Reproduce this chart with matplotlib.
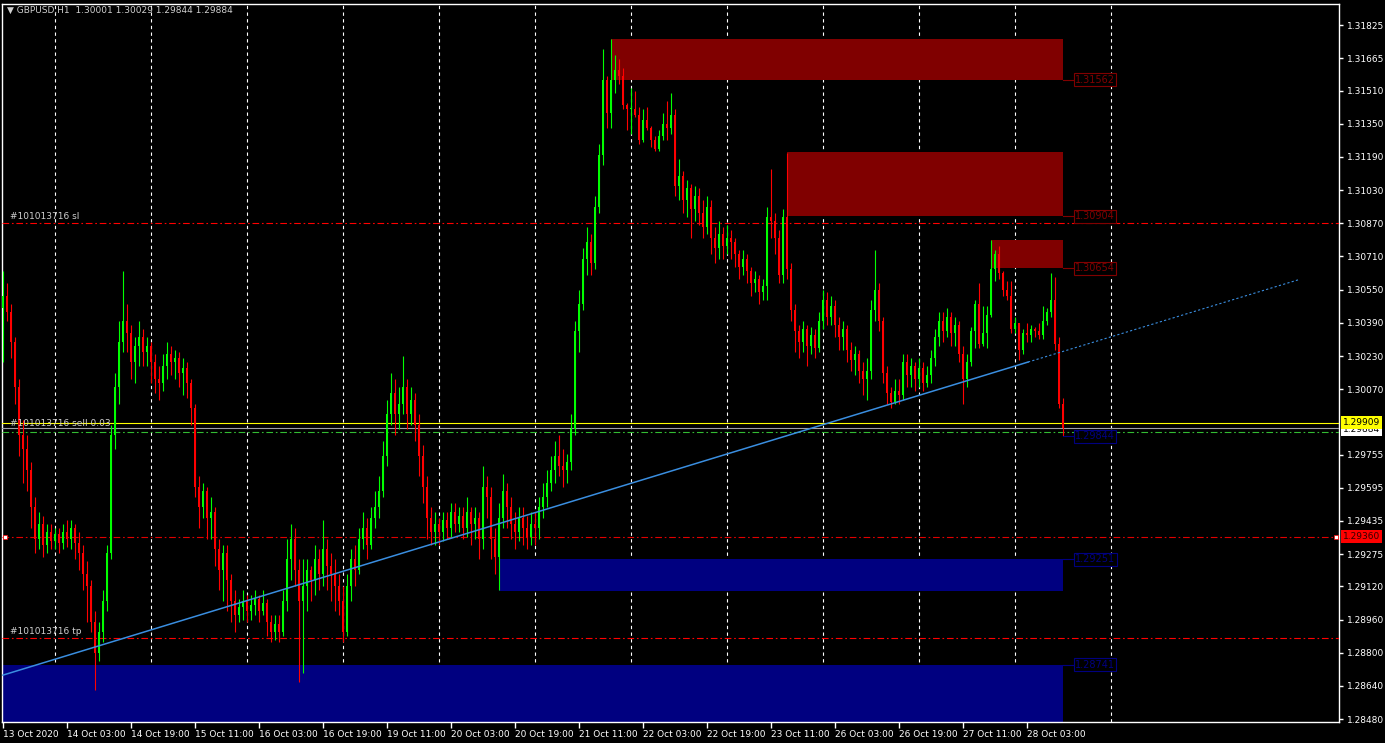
import numpy as np
import matplotlib
matplotlib.use("Agg")
import matplotlib.pyplot as plt
import matplotlib.transforms as mtransforms
from matplotlib.patches import Rectangle

# GBPUSD H1 bars, 13 Oct 2020 11:00 .. 28 Oct 2020 12:00 (one entry per hour)
first_open = 1.3046
closes = [
    # 13 Oct
    1.3052, 1.3044, 1.3030, 1.3008, 1.2985, 1.2978, 1.2968, 1.2950, 1.2935, 1.2942, 1.2932, 1.2938, 1.2934,
    # 14 Oct
    1.2937, 1.2933, 1.2938, 1.2935, 1.2940, 1.2933, 1.2928, 1.2918, 1.2912, 1.2895, 1.2880, 1.2890,
    1.2905, 1.2928, 1.2985, 1.3008, 1.3030, 1.3040, 1.3034, 1.3020, 1.3028, 1.3032, 1.3025, 1.3028,
    # 15 Oct
    1.3020, 1.3012, 1.3010, 1.3018, 1.3024, 1.3020, 1.3022, 1.3015, 1.3017, 1.3010, 1.2998, 1.2960,
    1.2950, 1.2958, 1.2945, 1.2948, 1.2930, 1.2920, 1.2928, 1.2915, 1.2905, 1.2898, 1.2902, 1.2905,
    # 16 Oct
    1.2900, 1.2903, 1.2906, 1.2900, 1.2904, 1.2895, 1.2890, 1.2894, 1.2890, 1.2905, 1.2925, 1.2935,
    1.2920, 1.2905, 1.2912, 1.2920, 1.2915, 1.2925, 1.2918, 1.2930, 1.2922, 1.2918, 1.2912, 1.2905,
    # 19 Oct
    1.2890, 1.2912, 1.2925, 1.2920, 1.2935, 1.2940, 1.2932, 1.2945, 1.2950, 1.2958, 1.2975, 1.2995,
    1.3005, 1.2995, 1.3000, 1.3008, 1.2995, 1.3002, 1.2990, 1.2975, 1.2960, 1.2945, 1.2938, 1.2942,
    # 20 Oct
    1.2938, 1.2944, 1.2940, 1.2948, 1.2942, 1.2946, 1.2940, 1.2948, 1.2942, 1.2945, 1.2935, 1.2960,
    1.2955, 1.2935, 1.2926, 1.2945, 1.2958, 1.2950, 1.2942, 1.2938, 1.2945, 1.2940, 1.2936, 1.2942,
    # 21 Oct
    1.2940, 1.2950, 1.2955, 1.2962, 1.2968, 1.2975, 1.2970, 1.2968, 1.2972, 1.2988, 1.3035, 1.3048,
    1.3070, 1.3078, 1.3068, 1.3095, 1.3120, 1.3156, 1.3140, 1.3156, 1.3161, 1.3158, 1.3144, 1.3142,
    # 22 Oct
    1.3142, 1.3139, 1.3127, 1.3137, 1.3133, 1.3127, 1.3123, 1.3129, 1.3135, 1.3133, 1.3139, 1.3105,
    1.3110, 1.3098, 1.3104, 1.3094, 1.3100, 1.3092, 1.3085, 1.3095, 1.3080, 1.3075, 1.3082, 1.3076,
    # 23 Oct
    1.3080, 1.3078, 1.3072, 1.3066, 1.3070, 1.3064, 1.3058, 1.3060, 1.3054, 1.3057, 1.3090, 1.3088,
    1.3080, 1.3062, 1.3090, 1.3065, 1.3045, 1.3035, 1.3030, 1.3036, 1.3028, 1.3033, 1.3027, 1.3040,
    # 26 Oct
    1.3050, 1.3042, 1.3047, 1.3038, 1.3032, 1.3036, 1.3026, 1.3021, 1.3024, 1.3016, 1.3012, 1.3016,
    1.3045, 1.3055, 1.3040, 1.3015, 1.3005, 1.3001, 1.3006, 1.3004, 1.3020, 1.3014, 1.3018, 1.3012,
    # 27 Oct
    1.3017, 1.3010, 1.3014, 1.3022, 1.3032, 1.3040, 1.3035, 1.3042, 1.3034, 1.3038, 1.3024, 1.3012,
    1.3020, 1.3035, 1.3048, 1.3029, 1.3034, 1.3043, 1.3065, 1.3072, 1.3063, 1.3055, 1.3052, 1.3036,
    # 28 Oct
    1.3039, 1.3026, 1.3034, 1.3033, 1.3036, 1.3035, 1.3033, 1.3040, 1.3044, 1.3050, 1.3029, 1.30001,
    1.29884,
]
highs = [
    1.3064, 1.3058, 1.3048, 1.3032, 1.3012, 1.2992, 1.2985, 1.2972, 1.2955, 1.2948, 1.2946, 1.2942, 1.2942,
    1.2940, 1.2940, 1.2942, 1.2944, 1.2944, 1.2942, 1.2938, 1.2932, 1.2924, 1.2915, 1.2900, 1.2895,
    1.2910, 1.2932, 1.2990, 1.3015, 1.3040, 1.3064, 1.3048, 1.3038, 1.3032, 1.3040, 1.3036, 1.3032,
    1.3030, 1.3024, 1.3018, 1.3024, 1.3030, 1.3028, 1.3026, 1.3025, 1.3022, 1.3020, 1.3012, 1.3000,
    1.2965, 1.2962, 1.2960, 1.2955, 1.2950, 1.2935, 1.2932, 1.2932, 1.2918, 1.2910, 1.2906, 1.2910,
    1.2908, 1.2908, 1.2910, 1.2908, 1.2910, 1.2906, 1.2898, 1.2898, 1.2898, 1.2910, 1.2935, 1.2942,
    1.2940, 1.2925, 1.2925, 1.2925, 1.2922, 1.2932, 1.2930, 1.2944, 1.2935, 1.2928, 1.2925, 1.2918,
    1.2912, 1.2918, 1.2930, 1.2932, 1.2940, 1.2948, 1.2945, 1.2950, 1.2958, 1.2965, 1.2982, 1.3002,
    1.3015, 1.3012, 1.3008, 1.3023, 1.3012, 1.3008, 1.3005, 1.2995, 1.2980, 1.2965, 1.2950, 1.2948,
    1.2945, 1.2948, 1.2948, 1.2952, 1.2952, 1.2950, 1.2950, 1.2955, 1.2950, 1.2950, 1.2948, 1.2970,
    1.2965, 1.2960, 1.2940, 1.2952, 1.2966, 1.2962, 1.2955, 1.2948, 1.2950, 1.2950, 1.2946, 1.2948,
    1.2948, 1.2955, 1.2962, 1.2968, 1.2975, 1.2982, 1.2985, 1.2978, 1.2976, 1.2995, 1.3040, 1.3055,
    1.3075, 1.3085, 1.3082, 1.3100, 1.3125, 1.3171, 1.3158, 1.3176, 1.3168, 1.3166, 1.3162, 1.3145,
    1.3152, 1.3151, 1.3143, 1.3142, 1.3143, 1.3134, 1.3129, 1.3132, 1.3140, 1.3146, 1.3150, 1.3142,
    1.3118, 1.3112, 1.3108, 1.3106, 1.3105, 1.3104, 1.3098, 1.3100, 1.3098, 1.3085, 1.3088, 1.3085,
    1.3086, 1.3084, 1.3080, 1.3074, 1.3074, 1.3072, 1.3066, 1.3064, 1.3062, 1.3060, 1.3095, 1.3113,
    1.3092, 1.3084, 1.3094, 1.3121, 1.3068, 1.3048, 1.3038, 1.3040, 1.3038, 1.3037, 1.3036, 1.3044,
    1.3055, 1.3054, 1.3052, 1.3050, 1.3042, 1.3040, 1.3038, 1.3030, 1.3028, 1.3026, 1.3020, 1.3022,
    1.3050, 1.3074, 1.3058, 1.3042, 1.3018, 1.3008, 1.3012, 1.3012, 1.3024, 1.3024, 1.3022, 1.3020,
    1.3022, 1.3020, 1.3018, 1.3026, 1.3036, 1.3044, 1.3044, 1.3046, 1.3044, 1.3042, 1.3040, 1.3028,
    1.3024, 1.3037, 1.3050, 1.3058, 1.3047, 1.3047, 1.3079, 1.3074, 1.3076, 1.3064, 1.3059, 1.3059,
    1.3042, 1.3039, 1.3036, 1.3039, 1.3038, 1.3037, 1.3039, 1.3047, 1.3046, 1.3063, 1.3061, 1.3032,
    1.30029,
]
lows = [
    1.3020, 1.3040, 1.3022, 1.3000, 1.2975, 1.2962, 1.2958, 1.2940, 1.2928, 1.2930, 1.2926, 1.2928, 1.2930,
    1.2930, 1.2928, 1.2930, 1.2931, 1.2930, 1.2925, 1.2920, 1.2910, 1.2895, 1.2890, 1.2862, 1.2876,
    1.2885, 1.2900, 1.2925, 1.2978, 1.3000, 1.3025, 1.3025, 1.3012, 1.3010, 1.3018, 1.3018, 1.3018,
    1.3010, 1.3005, 1.3002, 1.3006, 1.3012, 1.3014, 1.3012, 1.3008, 1.3004, 1.3003, 1.2990, 1.2955,
    1.2940, 1.2945, 1.2935, 1.2935, 1.2922, 1.2910, 1.2905, 1.2900, 1.2895, 1.2890, 1.2895, 1.2896,
    1.2895, 1.2896, 1.2898, 1.2895, 1.2898, 1.2888, 1.2885, 1.2886, 1.2885, 1.2888, 1.2900, 1.2915,
    1.2912, 1.2866, 1.2870, 1.2900, 1.2905, 1.2908, 1.2910, 1.2912, 1.2910, 1.2905, 1.2900, 1.2898,
    1.2885, 1.2888, 1.2905, 1.2912, 1.2918, 1.2930, 1.2925, 1.2930, 1.2940, 1.2945, 1.2955, 1.2970,
    1.2990, 1.2985, 1.2988, 1.2995, 1.2988, 1.2990, 1.2982, 1.2965, 1.2952, 1.2935, 1.2932, 1.2932,
    1.2932, 1.2934, 1.2935, 1.2936, 1.2938, 1.2938, 1.2935, 1.2936, 1.2932, 1.2935, 1.2925, 1.2930,
    1.2945, 1.2925, 1.2918, 1.2910, 1.2940, 1.2940, 1.2935, 1.2930, 1.2934, 1.2932, 1.2930, 1.2932,
    1.2932, 1.2935, 1.2945, 1.2950, 1.2958, 1.2962, 1.2965, 1.2960, 1.2962, 1.2968, 1.2985, 1.3025,
    1.3045, 1.3062, 1.3062, 1.3065, 1.3092, 1.3115, 1.3133, 1.3133, 1.3150, 1.3154, 1.3142, 1.3132,
    1.3130, 1.3138, 1.3125, 1.3126, 1.3132, 1.3124, 1.3122, 1.3122, 1.3127, 1.3127, 1.3130, 1.3100,
    1.3098, 1.3092, 1.3090, 1.3080, 1.3088, 1.3086, 1.3080, 1.3082, 1.3072, 1.3068, 1.3070, 1.3070,
    1.3072, 1.3070, 1.3066, 1.3060, 1.3062, 1.3058, 1.3052, 1.3054, 1.3048, 1.3050, 1.3050, 1.3080,
    1.3072, 1.3058, 1.3058, 1.3060, 1.3040, 1.3025, 1.3022, 1.3025, 1.3018, 1.3024, 1.3022, 1.3025,
    1.3036, 1.3038, 1.3038, 1.3032, 1.3026, 1.3026, 1.3020, 1.3016, 1.3014, 1.3010, 1.3004, 1.3002,
    1.3012, 1.3040, 1.3035, 1.3010, 1.3000, 1.2998, 1.3000, 1.3000, 1.3002, 1.3008, 1.3008, 1.3006,
    1.3008, 1.3006, 1.3008, 1.3010, 1.3018, 1.3028, 1.3030, 1.3032, 1.3028, 1.3028, 1.3020, 1.3000,
    1.3008, 1.3018, 1.3027, 1.3027, 1.3028, 1.3027, 1.3042, 1.3059, 1.3060, 1.3052, 1.3050, 1.3034,
    1.3034, 1.3021, 1.3024, 1.3030, 1.3030, 1.3032, 1.3031, 1.3031, 1.3038, 1.3042, 1.3026, 1.2998,
    1.29844,
]
opens = [first_open] + closes[:-1]

# time axis labels (every 16 bars) and day separators (00:00 of each trading day)
time_labels = ["13 Oct 2020", "14 Oct 03:00", "14 Oct 19:00", "15 Oct 11:00", "16 Oct 03:00",
               "16 Oct 19:00", "19 Oct 11:00", "20 Oct 03:00", "20 Oct 19:00", "21 Oct 11:00",
               "22 Oct 03:00", "22 Oct 19:00", "23 Oct 11:00", "26 Oct 03:00", "26 Oct 19:00",
               "27 Oct 11:00", "28 Oct 03:00"]
time_label_bars = [0, 16, 32, 48, 64, 80, 96, 112, 128, 144, 160, 176, 192, 208, 224, 240, 256]
day_start_bars = [13, 37, 61, 85, 109, 133, 157, 181, 205, 229, 253, 277]

price_ticks = [1.31825, 1.31665, 1.31510, 1.31350, 1.31190, 1.31030, 1.30870, 1.30710,
               1.30550, 1.30390, 1.30230, 1.30070, 1.29755, 1.29595, 1.29435, 1.29275,
               1.29120, 1.28960, 1.28800, 1.28640, 1.28480]

# supply / demand zones: start bar, end bar, top, bottom, labelled price
zone_start = [152, 196, 247, 124, 0]
zone_end = [265, 265, 265, 265, 265]
zone_top = [1.31758, 1.31213, 1.30789, 1.29251, 1.28741]
zone_bottom = [1.31562, 1.30904, 1.30654, 1.29097, 1.28400]
zone_label = [1.31562, 1.30904, 1.30654, 1.29251, 1.28741]
zone_color = ["#800000", "#800000", "#800000", "#000080", "#000080"]

# trend line (solid part, then dotted ray)
trend_bars = [0, 256.25, 324.25]
trend_prices = [1.28692, 1.30201, 1.30600]

sl_price = 1.30870
tp_price = 1.28870
hline_price = 1.29360
yellow_price = 1.29909
bid_price = 1.29884
open_price = 1.29866
open_label = 1.29844

# --- figure ---
W, H = 1385, 743
fig = plt.figure(figsize=(W / 100, H / 100), dpi=100, facecolor="black")
ax = fig.add_axes([2 / W, (H - 722) / H, (1339 - 2) / W, (722 - 4) / H], facecolor="black")

ax.set_xlim(-0.25, 334)
ax.set_ylim(1.28466, 1.31927)

for sp in ax.spines.values():
    sp.set_color("white")
    sp.set_linewidth(1)

# day grid
for b in day_start_bars:
    ax.axvline(b, color="white", lw=0.8, linestyle=(0, (3, 3)), zorder=1)

# zones
for s, e, t, b, c in zip(zone_start, zone_end, zone_top, zone_bottom, zone_color):
    ax.add_patch(Rectangle((s, b), e - s, t - b, facecolor=c, edgecolor="none", zorder=2))

# horizontal lines
dashdot = (0, (6, 2.5, 1.5, 2.5))
ax.axhline(sl_price, color="#ff0000", lw=0.8, linestyle=dashdot, zorder=3)
ax.axhline(tp_price, color="#ff0000", lw=0.8, linestyle=dashdot, zorder=3)
ax.axhline(hline_price, color="#e00000", lw=0.8, linestyle=dashdot, zorder=3)
ax.axhline(yellow_price, color="#ffff00", lw=0.8, zorder=3)
ax.axhline(bid_price, color="#a0a0a8", lw=0.8, zorder=3)
ax.axhline(open_price, color="#33bb33", lw=0.8, linestyle=dashdot, zorder=3)
ax.plot([0.5, 333.2], [hline_price, hline_price], "s", ms=2.5, mfc="white", mec="red", mew=0.5,
        zorder=6, clip_on=False)

# candles
idx = np.arange(len(closes))
o = np.array(opens)
c = np.array(closes)
h = np.maximum(np.array(highs), np.maximum(o, c))
l = np.minimum(np.array(lows), np.minimum(o, c))
cols = np.where(c >= o, "#00ff00", "#ff0000")
ax.vlines(idx, l, h, colors=cols, lw=0.8, zorder=4)
body_low = np.minimum(o, c)
body_h = np.maximum(np.abs(c - o), 0.00004)
ax.bar(idx, body_h, bottom=body_low, width=0.72, color=cols, linewidth=0, zorder=5)

# trend line
ax.plot(trend_bars[:2], trend_prices[:2], color="#3a8ee0", lw=1.1, zorder=6)
ax.plot(trend_bars[1:], trend_prices[1:], color="#3a8ee0", lw=0.8, linestyle=(0, (2, 2)), zorder=6)

# zone price labels
for p, col in zip(zone_label, zone_color):
    ax.plot([265, 267.8], [p, p], color=col, lw=0.8, zorder=6)
    ax.text(268, p, "%.5f" % p, color=col, fontsize=7, va="center", ha="left", zorder=7,
            bbox=dict(facecolor="black", edgecolor=col, boxstyle="square,pad=0.15", lw=0.8))
ax.plot([265, 267.8], [open_label, open_label], color="#000080", lw=0.8, zorder=6)
ax.text(268, open_label, "%.5f" % open_label, color="#000080", fontsize=7, va="center", ha="left",
        zorder=7, bbox=dict(facecolor="black", edgecolor="#000080", boxstyle="square,pad=0.15", lw=0.8))

# order labels on the left
txt_col = "#d0d0d0"
ax.annotate("#101013716 sl", xy=(1.7, sl_price), xytext=(0, 1.5), textcoords="offset points",
            color=txt_col, fontsize=6.5, va="bottom", ha="left", zorder=7)
ax.annotate("#101013716 sell 0.03", xy=(1.7, yellow_price), xytext=(0, -0.5), textcoords="offset points",
            color=txt_col, fontsize=6.5, va="center", ha="left", zorder=7)
ax.annotate("#101013716 tp", xy=(1.7, tp_price), xytext=(0, 1.5), textcoords="offset points",
            color=txt_col, fontsize=6.5, va="bottom", ha="left", zorder=7)

# axes ticks
ax.yaxis.tick_right()
ax.set_yticks(price_ticks)
ax.set_yticklabels(["%.5f" % p for p in price_ticks])
ax.tick_params(axis="y", colors="white", direction="out", length=3, width=1, pad=3, labelsize=6.5)
ax.set_xticks(time_label_bars)
ax.set_xticklabels(time_labels)
ax.tick_params(axis="x", colors="white", direction="out", length=4, width=1, pad=2, labelsize=6.5)
for t in ax.get_xticklabels():
    t.set_horizontalalignment("left")

# price boxes on the right scale
tr = mtransforms.blended_transform_factory(fig.transFigure, ax.transData)
box_x = 1343 / W
ax.text(box_x, bid_price - 0.00010, "%.5f" % bid_price, transform=tr, color="black", fontsize=6.5,
        va="center", ha="left", clip_on=False, zorder=8,
        bbox=dict(facecolor="white", edgecolor="none", boxstyle="square,pad=0.2"))
ax.text(box_x, yellow_price, "%.5f" % yellow_price, transform=tr, color="black", fontsize=6.5,
        va="center", ha="left", clip_on=False, zorder=9,
        bbox=dict(facecolor="#ffff00", edgecolor="none", boxstyle="square,pad=0.2"))
ax.text(box_x, hline_price, "%.5f" % hline_price, transform=tr, color="#300000", fontsize=6.5,
        va="center", ha="left", clip_on=False, zorder=8,
        bbox=dict(facecolor="#ff0000", edgecolor="none", boxstyle="square,pad=0.2"))

# header
fig.text(7 / W, 1 - 10 / H, "\u25bc GBPUSD,H1  1.30001 1.30029 1.29844 1.29884", color=txt_col,
         fontsize=6.5, va="center", ha="left")

fig.savefig("out.png", dpi=100, facecolor="black")
